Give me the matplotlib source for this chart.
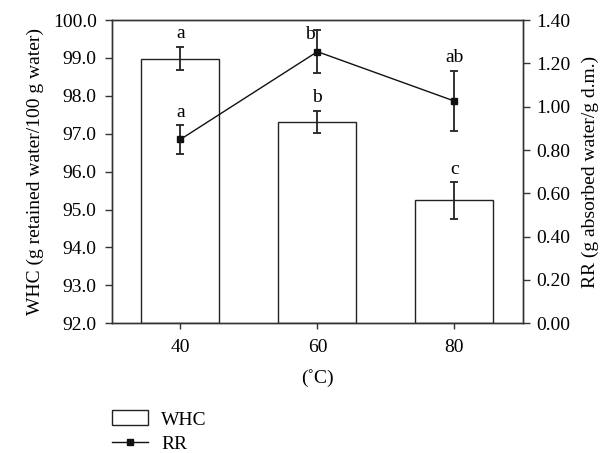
import matplotlib
matplotlib.use("Agg")
import matplotlib.pyplot as plt
from matplotlib.patches import Patch
from matplotlib.lines import Line2D

temps = ["40", "60", "80"]
whc = [98.98, 97.32, 95.24]
whc_err = [0.31, 0.29, 0.48]
rr = [0.849, 1.254, 1.026]
rr_err = [0.067, 0.10, 0.14]
whc_letters = ["a", "b", "c"]
rr_letters = ["a", "b", "ab"]

plt.rcParams['font.family'] = ['Liberation Serif', 'DejaVu Serif']
plt.rcParams['font.size'] = 14

fig = plt.figure(figsize=(6.03, 4.53), dpi=100)
ax = fig.add_axes([0.1857, 0.2863, 0.867 - 0.1857, 0.9558 - 0.2863])
spine_c = '#333333'
x = list(range(len(temps)))

ax.bar(x, [w - 92 for w in whc], bottom=92, width=0.57, color='white',
       edgecolor='#222222', linewidth=1.0, zorder=2)
ax.errorbar(x, whc, yerr=whc_err, fmt='none', ecolor='#222222', elinewidth=1.3,
            capsize=3, capthick=1.3, zorder=3)
ax.set_ylim(92, 100)
ax.set_xlim(-0.5, 2.5)
ax.set_yticks([92 + i for i in range(9)])
ax.set_yticklabels([f"{92 + i:.1f}" for i in range(9)])
ax.set_xticks(x)
ax.set_xticklabels(temps)
ax.set_ylabel("WHC (g retained water/100 g water)", labelpad=6)
ax.set_xlabel("(˚C)", labelpad=10)
ax.tick_params(axis='y', direction='out', length=5, width=1, color=spine_c, pad=6)
ax.tick_params(axis='x', direction='out', length=4.5, width=1, color=spine_c, pad=6.5, top=False)
for s in ax.spines.values():
    s.set_color(spine_c)
    s.set_linewidth(1.0)

for xi, w, e, t in zip(x, whc, whc_err, whc_letters):
    ax.text(xi, w + e + 0.12, t, ha='center', va='bottom', fontsize=14)

ax2 = ax.twinx()
ax2.errorbar(x, rr, yerr=rr_err, fmt='-s', color='#111111', ecolor='#222222',
             elinewidth=1.3, capsize=3, capthick=1.3, linewidth=1.0,
             markersize=5, zorder=4)
ax2.set_ylim(0, 1.4)
ax2.set_yticks([i * 0.2 for i in range(8)])
ax2.set_yticklabels([f"{i * 0.2:.2f}" for i in range(8)])
ax2.set_ylabel("RR (g absorbed water/g d.m.)", labelpad=8)
ax2.tick_params(direction='out', length=5, width=1, color=spine_c, pad=5)
for s in ax2.spines.values():
    s.set_color(spine_c)
    s.set_linewidth(1.0)

# letters for RR: 'b' sits left of its error bar cap
ax2.text(x[0], rr[0] + rr_err[0] + 0.02, rr_letters[0], ha='center', va='bottom', fontsize=14)
ax2.text(x[1] - 0.02, rr[1] + rr_err[1] - 0.02, rr_letters[1], ha='right', va='center', fontsize=14)
ax2.text(x[2], rr[2] + rr_err[2] + 0.02, rr_letters[2], ha='center', va='bottom', fontsize=14)

handles = [Patch(facecolor='white', edgecolor='#222222', linewidth=1.0),
           Line2D([0], [0], color='#111111', marker='s', markersize=5, linewidth=1.0)]
fig.legend(handles, ["WHC", "RR"], loc='upper left', bbox_to_anchor=(0.185, 0.094),
           frameon=False, fontsize=14, handlelength=1.85, handleheight=0.8,
           handletextpad=0.7, labelspacing=0.32, borderaxespad=0, borderpad=0)

fig.savefig("out.png", dpi=100)
